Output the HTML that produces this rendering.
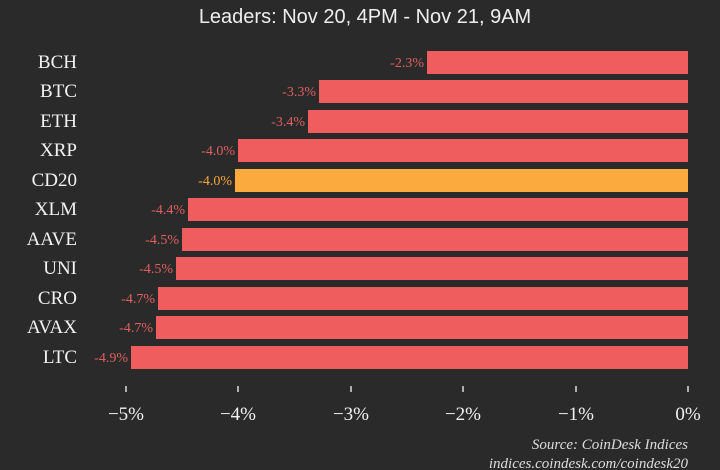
<!DOCTYPE html>
<html><head><meta charset="utf-8"><style>
html,body{margin:0;padding:0;background:#2a2a2a;}
svg{display:block}
</style></head><body>
<svg width="720" height="470" xmlns="http://www.w3.org/2000/svg">
<rect width="720" height="470" fill="#2a2a2a"/>
<text x="360" y="-4" text-anchor="middle" font-family="Liberation Sans, sans-serif" font-size="19" fill="#eeeeee">CoinDesk 20 Index (CD20)</text>
<text x="365" y="23" text-anchor="middle" font-family="Liberation Sans, sans-serif" font-size="20" fill="#eeeeee">Leaders: Nov 20, 4PM - Nov 21, 9AM</text>
<g font-family="Liberation Serif, serif">
<g font-size="19" fill="#f2f2f2" text-anchor="end">
<text x="77" y="68">BCH</text>
<text x="77" y="97">BTC</text>
<text x="77" y="127">ETH</text>
<text x="77" y="156">XRP</text>
<text x="77" y="186">CD20</text>
<text x="77" y="215">XLM</text>
<text x="77" y="245">AAVE</text>
<text x="77" y="274">UNI</text>
<text x="77" y="304">CRO</text>
<text x="77" y="333">AVAX</text>
<text x="77" y="363">LTC</text>
</g>
<g fill="#f05d5e">
<rect x="427" y="51" width="261" height="23"/>
<rect x="319" y="80" width="369" height="23"/>
<rect x="308" y="110" width="380" height="23"/>
<rect x="238" y="139" width="450" height="23"/>
<rect x="188" y="198" width="500" height="23"/>
<rect x="182" y="228" width="506" height="23"/>
<rect x="176" y="257" width="512" height="23"/>
<rect x="158" y="287" width="530" height="23"/>
<rect x="156" y="316" width="532" height="23"/>
<rect x="131" y="346" width="557" height="23"/>
</g>
<rect x="235" y="169" width="453" height="23" fill="#fbab3e"/>
<g font-size="14" fill="#e0605f" text-anchor="end">
<text x="424" y="67">-2.3%</text>
<text x="316" y="96">-3.3%</text>
<text x="305" y="126">-3.4%</text>
<text x="235" y="155">-4.0%</text>
<text x="232" y="185" fill="#f5a63a">-4.0%</text>
<text x="185" y="214">-4.4%</text>
<text x="179" y="244">-4.5%</text>
<text x="173" y="273">-4.5%</text>
<text x="155" y="303">-4.7%</text>
<text x="153" y="332">-4.7%</text>
<text x="128" y="362">-4.9%</text>
</g>
<g stroke="#dddddd" stroke-width="1.5">
<line x1="126" y1="386" x2="126" y2="392"/>
<line x1="238" y1="386" x2="238" y2="392"/>
<line x1="351" y1="386" x2="351" y2="392"/>
<line x1="463" y1="386" x2="463" y2="392"/>
<line x1="576" y1="386" x2="576" y2="392"/>
<line x1="688" y1="386" x2="688" y2="392"/>
</g>
<g font-size="19" fill="#f2f2f2" text-anchor="middle">
<text x="126" y="420">−5%</text>
<text x="238" y="420">−4%</text>
<text x="351" y="420">−3%</text>
<text x="463" y="420">−2%</text>
<text x="576" y="420">−1%</text>
<text x="688" y="420">0%</text>
</g>
<g font-size="15" font-style="italic" fill="#dddddd" text-anchor="end">
<text x="688" y="449">Source: CoinDesk Indices</text>
<text x="688" y="468">indices.coindesk.com/coindesk20</text>
</g>
</g>
</svg>
</body></html>
